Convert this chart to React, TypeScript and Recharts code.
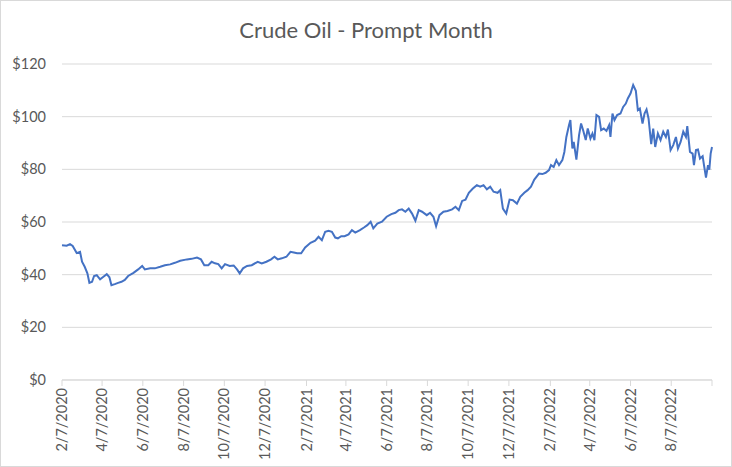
import { CartesianGrid, Line, LineChart, XAxis, YAxis } from "recharts";

const tickLabels = [
	"2/7/2020",
	"4/7/2020",
	"6/7/2020",
	"8/7/2020",
	"10/7/2020",
	"12/7/2020",
	"2/7/2021",
	"4/7/2021",
	"6/7/2021",
	"8/7/2021",
	"10/7/2021",
	"12/7/2021",
	"2/7/2022",
	"4/7/2022",
	"6/7/2022",
	"8/7/2022",
	"10/7/2022",
];

// days since 2/7/2020
const dayOffsets = [
	0, 7, 12, 16, 22, 27, 30, 34, 38, 41, 45, 48, 52, 57, 62, 67, 71, 74, 79, 84, 89, 94, 99, 107, 114, 120,
	124, 132, 139, 147, 154, 162, 169, 177, 187, 194, 202, 208, 213, 219, 224, 229, 234, 239, 244, 251, 257,
	262, 266, 271, 277, 284, 293, 299, 306, 313, 318, 323, 329, 336, 342, 347, 352, 358, 364, 372, 379, 384,
	389, 394, 399, 404, 409, 413, 418, 423, 429, 434, 439, 446, 452, 457, 462, 466, 472, 479, 486, 493, 499,
	504, 509, 514, 519, 524, 529, 534, 539, 546, 551, 556, 560, 565, 571, 577, 584, 589, 594, 599, 604, 609,
	615, 621, 626, 631, 636, 641, 646, 652, 656, 660, 665, 670, 675, 681, 686, 692, 697, 702, 707, 714, 719,
	724, 729, 732, 736, 740, 744, 749, 752, 755, 759, 761, 764, 766, 770, 774, 777, 780, 784, 787, 791, 794,
	797, 800, 804, 807, 811, 815, 819, 821, 824, 827, 831, 836, 840, 844, 847, 851, 855, 859, 862, 865, 869,
	872, 875, 878, 882, 885, 888, 892, 896, 900, 904, 907, 911, 915, 919, 922, 926, 930, 934, 936, 940, 944,
	946, 949, 952, 955, 959, 961, 964, 967, 969, 971, 973,
];

const prices = [
	51.2, 51.0, 51.6, 50.9, 48.2, 48.7, 44.9, 43.0, 40.5, 36.9, 37.3, 39.5, 39.8, 38.2, 39.2, 40.2, 39.0, 36.0,
	36.4, 36.9, 37.3, 38.0, 39.5, 40.7, 42.0, 43.3, 42.0, 42.4, 42.4, 43.0, 43.6, 43.9, 44.5, 45.3, 45.8, 46.0,
	46.5, 45.8, 43.6, 43.6, 44.9, 44.3, 44.0, 42.4, 44.0, 43.3, 43.5, 42.0, 40.5, 42.4, 43.3, 43.6, 44.9, 44.3,
	44.9, 45.8, 46.8, 45.8, 46.2, 46.8, 48.7, 48.4, 48.1, 48.1, 50.3, 52.1, 52.9, 54.4, 53.1, 56.3, 56.7, 56.3,
	54.1, 53.8, 54.6, 54.6, 55.3, 56.9, 56.0, 56.9, 57.9, 58.8, 60.1, 57.6, 59.4, 60.1, 62.0, 63.0, 63.5, 64.5,
	64.8, 63.9, 65.1, 63.2, 60.5, 64.5, 63.9, 62.6, 63.5, 62.0, 58.4, 62.6, 63.9, 64.2, 64.8, 65.8, 64.5, 68.0,
	68.5, 71.1, 72.7, 74.0, 73.4, 74.0, 72.4, 73.4, 71.5, 71.1, 72.1, 65.1, 63.2, 68.5, 68.3, 67.0, 69.6, 71.1,
	72.1, 73.4, 76.1, 78.4, 78.2, 78.7, 79.7, 81.6, 80.9, 83.5, 81.6, 83.5, 86.6, 92.3, 96.8, 98.7, 87.9, 90.4,
	83.7, 93.0, 97.4, 94.9, 91.1, 95.5, 91.7, 93.6, 91.1, 100.6, 99.9, 94.9, 95.5, 94.6, 96.8, 92.3, 101.2, 98.7,
	100.6, 101.2, 103.7, 105.0, 106.9, 108.8, 112.0, 109.8, 102.5, 103.1, 97.4, 101.2, 102.7, 99.3, 89.6, 95.5,
	88.5, 93.6, 91.1, 94.3, 92.3, 95.1, 87.3, 89.2, 92.3, 87.9, 90.4, 94.3, 92.3, 96.4, 86.6, 86.0, 81.6, 87.3,
	87.5, 84.1, 85.0, 81.6, 76.9, 81.6, 79.9, 86.0, 88.5,
];

const yTicks = [0, 20, 40, 60, 80, 100, 120];

function daysFromStart(label: string) {
	const [m, d, y] = label.split("/").map(Number);
	return Math.round((Date.UTC(y, m - 1, d) - Date.UTC(2020, 1, 7)) / 86400000);
}

const tickDays = tickLabels.map(daysFromStart);
const lastTick = tickDays[tickDays.length - 1];

const data = dayOffsets.map((day, i) => ({ day, price: prices[i] }));

function DateTick({ x, y, payload }: any) {
	if (payload.value === lastTick) return null;
	const label = tickLabels[tickDays.indexOf(payload.value)];
	return (
		<g transform={`translate(${x},${y}) rotate(-90)`}>
			<text x={0} y={0} dy="0.35em" textAnchor="end" fill="#595959" fontSize={14.5}>
				{label}
			</text>
		</g>
	);
}

export default function App() {
	return (
		<div
			style={{
				position: "relative",
				width: 732,
				height: 467,
				boxSizing: "border-box",
				border: "1px solid #d9d9d9",
				background: "#fff",
				fontFamily: "Lato, sans-serif",
			}}
		>
			<style>{"body{margin:0}"}</style>
			<div
				style={{
					position: "absolute",
					top: 15,
					left: 0,
					width: "100%",
					textAlign: "center",
					fontSize: 22,
					color: "#595959",
				}}
			>
				Crude Oil - Prompt Month
			</div>
			<LineChart width={730} height={465} data={data} margin={{ top: 63, right: 19, bottom: 6, left: 0 }}>
				<CartesianGrid vertical={false} stroke="#d9d9d9" />
				<XAxis
					dataKey="day"
					type="number"
					domain={[0, lastTick]}
					ticks={tickDays}
					interval={0}
					height={80}
					stroke="#d9d9d9"
					tickSize={6}
					tick={<DateTick />}
				/>
				<YAxis
					domain={[0, 120]}
					ticks={yTicks}
					width={61}
					axisLine={false}
					tickLine={false}
					tickSize={0}
					tickMargin={16}
					tick={{ fill: "#595959", fontSize: 14.5 }}
					tickFormatter={(v: number) => `$${v}`}
				/>
				<Line
					type="linear"
					dataKey="price"
					stroke="#4472c4"
					strokeWidth={2}
					dot={false}
					isAnimationActive={false}
				/>
			</LineChart>
		</div>
	);
}
